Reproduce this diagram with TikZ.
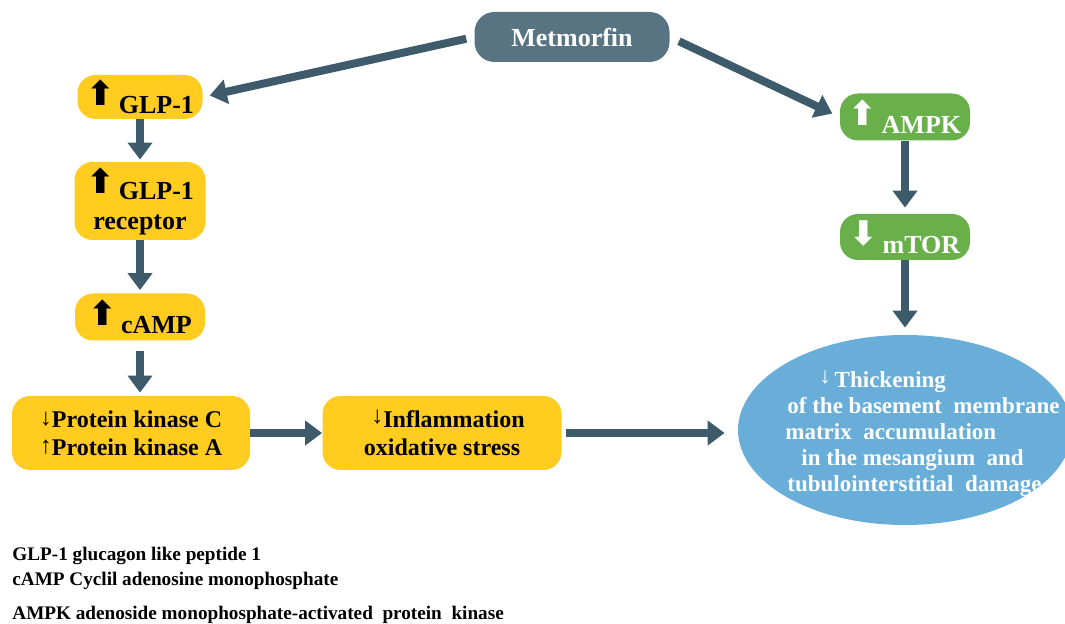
\documentclass[tikz,border=0pt]{standalone}
\usepackage{fontspec}
\setmainfont{Liberation Serif}
\newfontfamily\symfont{DejaVu Sans}
\usetikzlibrary{arrows.meta,shapes.geometric}
\definecolor{FlowArrow}{HTML}{3D5B6A}
\definecolor{DrugFill}{HTML}{587483}
\definecolor{PathYellow}{HTML}{FFCC1F}
\definecolor{PathGreen}{HTML}{69B04B}
\definecolor{OutcomeBlue}{HTML}{68AED9}
\newcommand{\bigup}{\raisebox{0pt}{\symfont\fontsize{17}{17}\selectfont ⬆}}
\newcommand{\bigdown}{\raisebox{0pt}{\symfont\fontsize{17}{17}\selectfont ⬇}}
\tikzset{every node/.style={font=\fontsize{13}{15}\selectfont\bfseries},
 pbox/.style={fill=PathYellow,rounded corners=9pt,inner sep=0pt},
 gbox/.style={fill=PathGreen,rounded corners=9pt,inner sep=0pt,text=white},
 flow/.style={draw=FlowArrow,line width=4pt,-{Triangle[width=12pt,length=8.5pt]}}}
\begin{document}
\begin{tikzpicture}[x=0.5pt,y=-0.5pt,
 small/.style={font=\fontsize{12}{14}\selectfont\bfseries},
 legend/.style={font=\fontsize{9.6}{12}\selectfont\bfseries,anchor=base west,inner sep=0pt}]
\useasboundingbox (0,0) rectangle (1065,624);
% drug at the top, two branches below it
\node[fill=DrugFill,rounded corners=10pt,text=white,minimum width=97.5pt,
 minimum height=25pt] (metmorfin) at (572,37) {Metmorfin};
\node[pbox,minimum width=62.5pt,minimum height=22pt] (glp) at (140,97)
 {\bigup\,\raisebox{-4pt}{GLP-1}};
\node[pbox,minimum width=65.5pt,minimum height=39pt,align=center] (receptor) at (140,201)
 {\bigup\,\raisebox{-3pt}{GLP-1}\\[3pt]receptor};
\node[pbox,minimum width=65pt,minimum height=23.5pt] (camp) at (140,317)
 {\bigup\,\raisebox{-4pt}{cAMP}};
\node[pbox,small,minimum width=119pt,minimum height=37pt,align=left] (kinase) at (131,433)
 {\raisebox{1pt}{\mdseries↓}Protein kinase C\\\raisebox{1pt}{\mdseries↑}Protein kinase A};
\node[pbox,small,minimum width=119.5pt,minimum height=37pt,align=center] (inflam) at (442,433)
 {\hspace*{6pt}\raisebox{2pt}{\mdseries↓}Inflammation\\oxidative stress};
\node[gbox,minimum width=65pt,minimum height=23.5pt] (ampk) at (905,117)
 {\bigup\,\raisebox{-4pt}{AMPK}};
\node[gbox,minimum width=65pt,minimum height=23pt] (mtor) at (905,237)
 {\bigdown\,\raisebox{-4pt}{mTOR}};
% outcome; its text runs past the ellipse and the page edge
\node[ellipse,fill=OutcomeBlue,minimum width=167pt,minimum height=95pt] (damage) at (905,430) {};
\node[font=\fontsize{11.5}{13}\selectfont\bfseries,text=white,align=left,anchor=north west,
 inner sep=0pt] (damagetext) at (785,370)
 {\hspace*{17pt}\raisebox{2pt}{\mdseries↓}\,Thickening\\
  \hspace*{1pt}of the basement\ \ membrane\\
  matrix\ \ accumulation\\
  \hspace*{8pt}in the mesangium\ \ and\\
  \hspace*{1pt}tubulointerstitial\ \ damage};
% connectors
\draw[flow,shorten <=4pt,shorten >=3.5pt] (metmorfin.west) -- (glp.east);
\draw[flow,shorten <=5pt,shorten >=4pt] (metmorfin.east) -- (ampk.west);
\draw[flow,shorten >=1pt] (glp) -- (receptor);
\draw[flow,shorten >=1.5pt] (receptor) -- (camp);
\draw[flow,shorten <=5pt,shorten >=1.5pt] (camp.south) -- (camp.south |- kinase.north);
\draw[flow] (kinase) -- (inflam);
\draw[flow,shorten <=2pt,shorten >=6.5pt] (inflam.east) -- (damage.west |- inflam.east);
\draw[flow,shorten >=3pt] (ampk) -- (mtor);
\draw[flow,shorten >=3.5pt] (mtor) -- (damage.north);
% abbreviations
\node[legend] (legendglp) at (12,560) {GLP-1 glucagon like peptide 1};
\node[legend] (legendcamp) at (12,586) {cAMP Cyclil adenosine monophosphate};
\node[legend] (legendampk) at (12,619) {AMPK adenoside monophosphate-activated\ \ protein\ \ kinase};
\end{tikzpicture}
\end{document}
